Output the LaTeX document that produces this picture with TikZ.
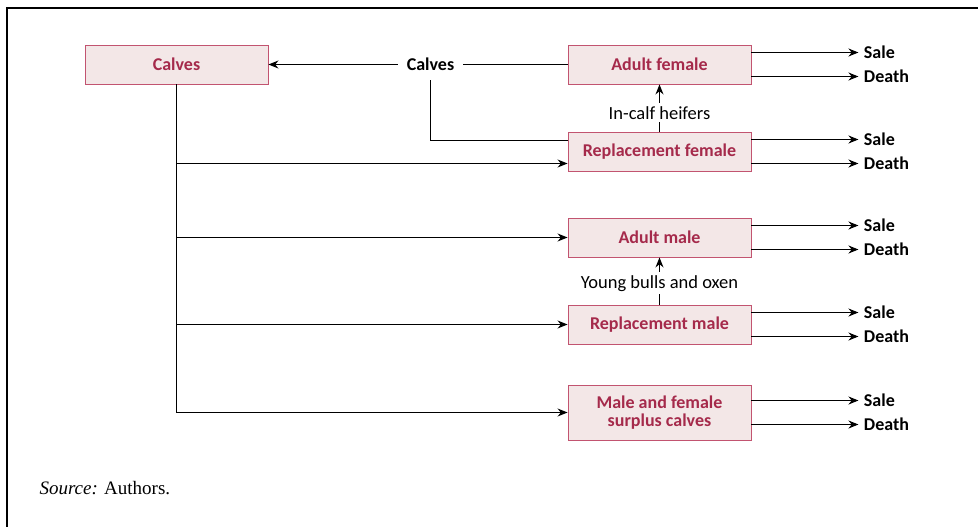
\documentclass[tikz,border=0pt]{standalone}
\usepackage{fontspec}
\setmainfont{Carlito}
\newfontfamily\srcfont{Liberation Serif}
\usetikzlibrary{arrows.meta}
\definecolor{boxfill}{HTML}{F3E7E7}
\definecolor{boxline}{HTML}{C25470}
\definecolor{boxtext}{HTML}{A52A4B}
\begin{document}
\begin{tikzpicture}
		[x=1pt,y=-1pt,
		mybox/.style={rectangle,draw=boxline,fill=boxfill,text=boxtext,line width=0.9pt,minimum width=183pt,minimum height=39pt,align=center,font=\fontsize{18}{18}\selectfont\bfseries},
		outlabel/.style={anchor=west,inner sep=5pt,font=\fontsize{18}{18}\selectfont\bfseries},
		flowlabel/.style={fill=white,inner sep=3pt,font=\fontsize{18.5}{19}\selectfont},
		myarrow/.style={-{Stealth[length=10pt,width=8pt]},line width=1pt}]
		\useasboundingbox (0,0) rectangle (978,527);
		\draw[line width=1.6pt] (7,527) -- (7,8) -- (978,8);
		\node[mybox,name=calves] at (176.5,64.5) {Calves};
		\node[mybox,name=af] at (659.5,64.5) {Adult female};
		\node[mybox,name=rf] at (659.5,151.5) {Replacement female};
		\node[mybox,name=am] at (659.5,237.5) {Adult male};
		\node[mybox,name=rm] at (659.5,324.5) {Replacement male};
		\node[mybox,name=sc,minimum height=55pt] at (659.5,412.5) {Male and female\\surplus calves};
		\node[name=calf,inner sep=9pt,font=\fontsize{18}{18}\selectfont\bfseries] at (430.5,64.5) {Calves};
		% calves going back
		\draw[line width=1pt] (af) -- (calf);
		\draw[myarrow] (calf) -- (calves);
		\draw[line width=1pt] ([yshift=11.5pt]rf.west) -| (calf.south);
		% trunk from calves
		\coordinate (rfin) at ([yshift=-12pt]rf.west);
		\draw[line width=1pt] (calves.south) -- (calves.south |- sc.west);
		\draw[myarrow] (calves.south |- rfin) -- (rfin);
		\foreach \b in {am,rm,sc}
		{
			\draw[myarrow] (calves.south |- \b.west) -- (\b.west);
		}
		% promotions
		\draw[myarrow] (rf.north) -- node[flowlabel,pos=0.4]{In-calf heifers} (af.south);
		\draw[myarrow] (rm.north) -- node[flowlabel,pos=0.45]{Young bulls and oxen} (am.south);
		% exits
		\foreach \b in {af,rf,am,rm,sc}
		{
			\draw[myarrow] ([yshift=12pt]\b.east) -- ++(107,0) node[outlabel]{Sale};
			\draw[myarrow] ([yshift=-12pt]\b.east) -- ++(107,0) node[outlabel]{Death};
		}
		\node[name=src,anchor=west,font=\srcfont\fontsize{19}{21}\selectfont] at (36,488) {\textit{Source:} Authors.};
	\end{tikzpicture}
\end{document}
